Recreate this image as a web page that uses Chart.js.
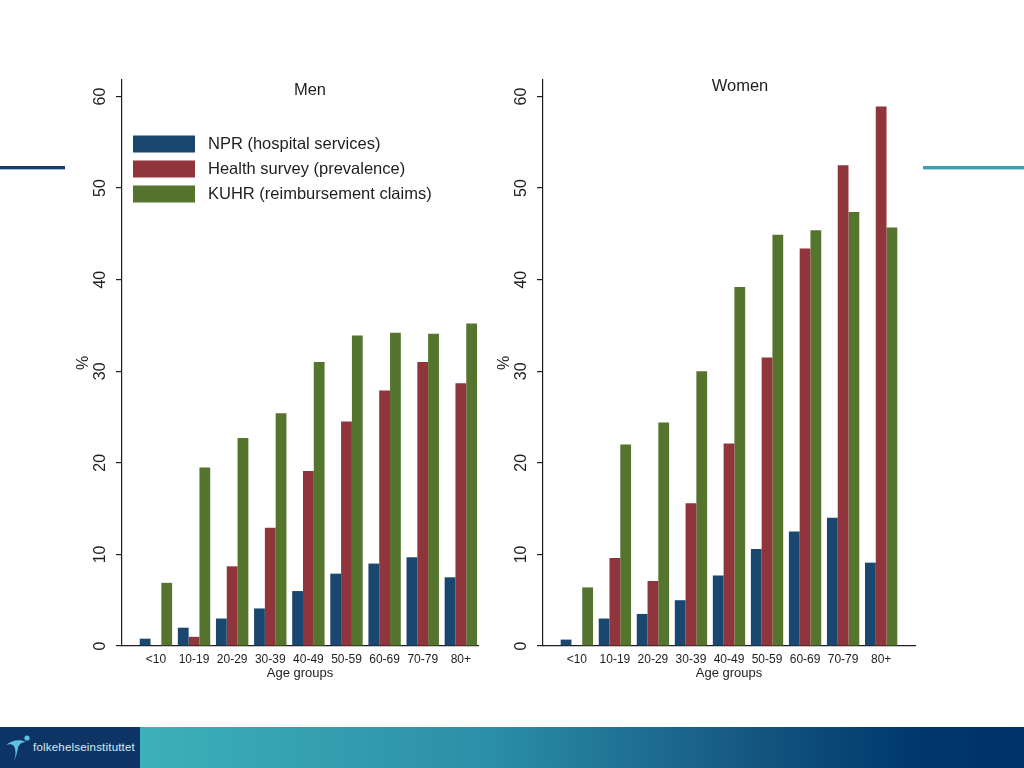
<!DOCTYPE html>
<html>
<head>
<meta charset="utf-8">
<title>Men / Women by age group</title>
<script src="https://cdn.jsdelivr.net/npm/chart.js@4.4.1/dist/chart.umd.min.js"></script>
<style>
  html, body { margin: 0; padding: 0; background: #fff; }
  body { width: 1024px; height: 768px; position: relative; overflow: hidden; font-family: "Liberation Sans", Arial, sans-serif; }
  #menChart { position: absolute; left: 0; top: 0; }
  #womenChart { position: absolute; left: 480px; top: 0; }
  .rule-left { position: absolute; left: 0; top: 166px; width: 65px; height: 3px; background: #123a6b; border-bottom: 1px solid #9fc0dc; }
  .rule-right { position: absolute; left: 923px; top: 166px; width: 101px; height: 3px; background: #3b9fae; border-bottom: 1px solid #a9dde2; }
  .footer { position: absolute; left: 0; top: 727px; width: 1024px; height: 41px; }
  .footer .logo { position: absolute; left: 0; top: 0; width: 140px; height: 41px; background: #0c3566; }
  .footer .band { position: absolute; left: 140px; top: 0; width: 884px; height: 41px;
    background: linear-gradient(to right, #3cb1ba 0%, #2b8ea8 40%, #14557f 70%, #00376c 88%, #00336a 100%); }
  .footer .logo span { position: absolute; left: 33px; top: 14px; color: #dfe9f2; font-size: 11.5px; letter-spacing: 0.2px; }
  .footer .logo svg { position: absolute; left: 4px; top: 6px; }
</style>
</head>
<body>
<div class="rule-left"></div>
<div class="rule-right"></div>
<canvas id="menChart" width="500" height="700"></canvas>
<canvas id="womenChart" width="544" height="700"></canvas>
<div class="footer">
  <div class="logo">
    <svg width="28" height="30" viewBox="0 0 28 30">
      <path d="M2 12 C 8 7, 16 6, 22 9 C 18 9, 15 11, 14 15 C 13 20, 12 24, 10 28 C 12 22, 12 17, 10 13 C 8 11, 5 11, 2 12 Z" fill="#5fc3e0"/>
      <circle cx="23" cy="5" r="2.6" fill="#5fc3e0"/>
    </svg>
    <span>folkehelseinstituttet</span>
  </div>
  <div class="band"></div>
</div>

<script>
// age groups along the x axis
const ageGroups = ['<10', '10-19', '20-29', '30-39', '40-49', '50-59', '60-69', '70-79', '80+'];
const seriesNames = ['NPR (hospital services)', 'Health survey (prevalence)', 'KUHR (reimbursement claims)'];
const seriesColors = ['#1a476f', '#90353b', '#55752f'];
const yTicks = [0, 10, 20, 30, 40, 50, 60];

// Men, %
const menNPR = [0.8, 2.0, 3.0, 4.1, 6.0, 7.9, 9.0, 9.7, 7.5];
const menSurvey = [null, 1.0, 8.7, 12.9, 19.1, 24.5, 27.9, 31.0, 28.7];
const menKUHR = [6.9, 19.5, 22.7, 25.4, 31.0, 33.9, 34.2, 34.1, 35.2];

// Women, %
const womenNPR = [0.7, 3.0, 3.5, 5.0, 7.7, 10.6, 12.5, 14.0, 9.1];
const womenSurvey = [null, 9.6, 7.1, 15.6, 22.1, 31.5, 43.4, 52.5, 58.9];
const womenKUHR = [6.4, 22.0, 24.4, 30.0, 39.2, 44.9, 45.4, 47.4, 45.7];

const FONT = '"Liberation Sans", Arial, sans-serif';
const INK = '#1e1e1e';

// rotated y tick labels, "%" label, panel title and legend
const decor = {
    id: 'decor',
    afterDraw(chart, args, opts) {
        const { ctx, chartArea } = chart;
        const y = chart.scales.y;
        ctx.save();
        ctx.fillStyle = INK;
        ctx.textAlign = 'center';
        ctx.textBaseline = 'middle';
        ctx.font = '16px ' + FONT;
        yTicks.forEach(v => {
            ctx.save();
            ctx.translate(chartArea.left - 21, y.getPixelForValue(v));
            ctx.rotate(-Math.PI / 2);
            ctx.fillText(String(v), 0, 0);
            ctx.restore();
        });
        ctx.save();
        ctx.translate(chartArea.left - 38, (chartArea.top + chartArea.bottom) / 2);
        ctx.rotate(-Math.PI / 2);
        ctx.fillText('%', 0, 0);
        ctx.restore();

        ctx.font = '16.5px ' + FONT;
        ctx.fillText(opts.title, opts.titleX, opts.titleY);

        if (opts.legend) {
            ctx.textAlign = 'left';
            chart.data.datasets.forEach((ds, i) => {
                const cy = 144 + i * 25;
                ctx.fillStyle = ds.backgroundColor;
                ctx.fillRect(133, cy - 8.5, 62, 17);
                ctx.fillStyle = INK;
                ctx.fillText(ds.label, 208, cy);
            });
        }
        ctx.restore();
    }
};

function makeChart(id, values, xMax, yWidth, padRight, title) {
    return new Chart(document.getElementById(id), {
        type: 'bar',
        data: {
            datasets: values.map((vals, i) => ({
                label: seriesNames[i],
                data: vals.map((v, k) => ({ x: k, y: v })),
                backgroundColor: seriesColors[i],
                borderWidth: 0,
                categoryPercentage: 0.85,
                barPercentage: 1.0
            }))
        },
        options: {
            responsive: false,
            animation: false,
            layout: { padding: { top: 80, right: padRight, bottom: 0, left: 0 } },
            plugins: {
                legend: { display: false },
                tooltip: { enabled: false },
                decor: title
            },
            scales: {
                x: {
                    type: 'linear',
                    offset: false,
                    min: -0.89,
                    max: xMax,
                    grid: { display: false, drawTicks: false, offset: false },
                    border: { display: true, color: INK, width: 1.2 },
                    ticks: {
                        stepSize: 1,
                        includeBounds: false,
                        autoSkip: false,
                        maxRotation: 0,
                        padding: 6,
                        color: INK,
                        font: { family: FONT, size: 12 },
                        callback: v => Number.isInteger(v) ? ageGroups[v] : ''
                    },
                    title: {
                        display: true,
                        text: 'Age groups',
                        color: INK,
                        font: { family: FONT, size: 13 },
                        padding: { top: 0, bottom: 19 }
                    },
                    afterFit: s => { s.height = 54; }
                },
                y: {
                    min: 0,
                    max: 61.8,
                    grid: { display: true, drawOnChartArea: false, drawTicks: true, tickLength: 6, color: INK, lineWidth: 1.2 },
                    border: { display: true, color: INK, width: 1.2 },
                    ticks: { display: false, stepSize: 10, includeBounds: false },
                    afterFit: s => { s.width = yWidth; }
                }
            }
        },
        plugins: [decor]
    });
}

makeChart('menChart', [menNPR, menSurvey, menKUHR], 8.45, 122, 22,
    { title: 'Men', titleX: 310, titleY: 90, legend: true });
makeChart('womenChart', [womenNPR, womenSurvey, womenKUHR], 8.89, 63, 109,
    { title: 'Women', titleX: 260, titleY: 86, legend: false });
</script>
</body>
</html>
